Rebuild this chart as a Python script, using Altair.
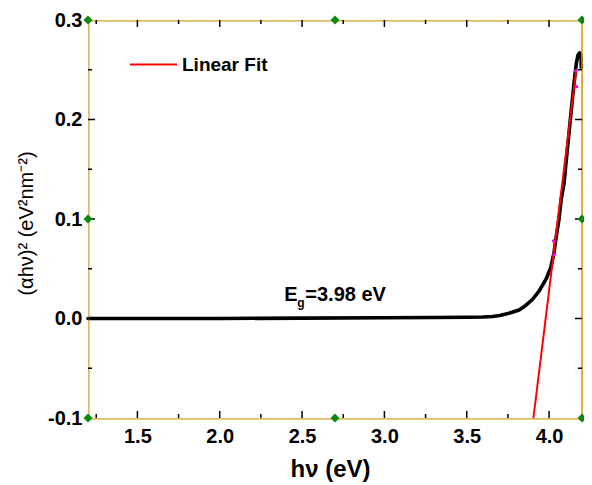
import altair as alt
import pandas as pd

# ---- data ----
curve_x = [1.20, 1.50, 2.00, 2.50, 3.00, 3.30, 3.50, 3.60, 3.656, 3.70, 3.757, 3.818,
           3.858, 3.899, 3.939, 3.980, 4.010, 4.030, 4.044, 4.060, 4.074, 4.091,
           4.111, 4.131, 4.152, 4.166, 4.176, 4.186, 4.194, 4.196]
curve_y = [0.0, 0.0, 0.0, 0.0004, 0.0007, 0.0010, 0.0012, 0.0015, 0.0020, 0.0030, 0.0052, 0.0086,
           0.0131, 0.0191, 0.0275, 0.0390, 0.0510, 0.0660, 0.0830, 0.0995, 0.1200, 0.1360,
           0.1700, 0.2030, 0.2370, 0.2570, 0.2650, 0.2670, 0.2630, 0.2520]

fit_x = [3.905, 4.165]
fit_y = [-0.10, 0.25]

fit_marker_x = [4.026, 4.030, 4.162, 4.168]
fit_marker_y = [0.078, 0.064, 0.249, 0.233]

frame_marker_x = [1.2, 2.7, 4.2, 1.2, 4.2, 1.2, 2.7, 4.2]
frame_marker_y = [0.3, 0.3, 0.3, 0.1, 0.1, -0.1, -0.1, -0.1]

x_labels = [1.5, 2.0, 2.5, 3.0, 3.5, 4.0]
x_major = [1.5, 2.0, 2.5, 3.0, 3.5, 4.0]
x_minor = [1.25, 1.75, 2.25, 2.75, 3.25, 3.75]
y_labels = [-0.1, 0.0, 0.1, 0.2, 0.3]
y_major = [0.0, 0.1, 0.2]
y_minor = [-0.05, 0.05, 0.15, 0.25]

x_domain = [1.2, 4.2]
y_domain = [-0.1, 0.3]

legend_label = "Linear Fit"
gap_anchor_x = [2.392]
gap_anchor_y = [0.0171]
gap_text = ["E", "g", "=3.98 eV"]

x_title = "hν (eV)"
y_title = "(αhν)² (eV²nm⁻²)"

# ---- layout / style ----
W, H = 494, 398
FONT = "Liberation Sans"
ORANGE = "#D99A00"

xs = alt.Scale(domain=x_domain, nice=False, zero=False)
ys = alt.Scale(domain=y_domain, nice=False, zero=False)

curve_df = pd.DataFrame({"x": curve_x, "y": curve_y, "o": list(range(len(curve_x)))})
fit_df = pd.DataFrame({"x": fit_x, "y": fit_y, "series": [legend_label] * len(fit_x)})
fm_df = pd.DataFrame({"x": fit_marker_x, "y": fit_marker_y})
frm_df = pd.DataFrame({"x": frame_marker_x, "y": frame_marker_y})

curve = alt.Chart(curve_df).mark_line(color="black", strokeWidth=3.6, strokeCap="round",
                                      strokeJoin="round").encode(
    x=alt.X("x:Q", scale=xs, axis=alt.Axis(
        values=x_labels, format=".1f", ticks=False, domain=False, grid=False,
        labelFont=FONT, labelFontSize=20, labelFontWeight="bold", labelColor="black",
        labelPadding=8, title=x_title, titleFont=FONT, titleFontSize=24,
        titleFontWeight="bold", titleColor="black", titleBaseline="alphabetic",
        titleX=242, titleY=58, titleAlign="center")),
    y=alt.Y("y:Q", scale=ys, axis=alt.Axis(
        values=y_labels, ticks=False, domain=False, grid=False,
        labelExpr="datum.value < -0.00001 ? '-' + format(-datum.value, '.1f') : format(abs(datum.value), '.1f')",
        labelFont=FONT, labelFontSize=20, labelFontWeight="bold", labelColor="black",
        labelPadding=6, title=y_title, titleFont=FONT, titleFontSize=20,
        titleFontWeight="normal", titleColor="black", titleX=-52, titleY=203,
        titleAngle=270, titleBaseline="bottom", titleAlign="center")),
    order="o:Q",
)

fit = alt.Chart(fit_df).mark_line(strokeWidth=2).encode(
    x=alt.X("x:Q", scale=xs, axis=None),
    y=alt.Y("y:Q", scale=ys, axis=None),
    color=alt.Color("series:N", scale=alt.Scale(domain=[legend_label], range=["#FF0000"]),
                    legend=alt.Legend(title=None, orient="none", legendX=41, legendY=20,
                                      symbolType="stroke", symbolSize=2209,
                                      symbolStrokeWidth=2, labelFont=FONT,
                                      labelFontSize=19, labelFontWeight="bold",
                                      labelColor="black", labelOffset=4, padding=0)),
)

fit_pts = alt.Chart(fm_df).mark_point(filled=True, size=10, color="#FF00FF", opacity=1).encode(
    x=alt.X("x:Q", scale=xs, axis=None), y=alt.Y("y:Q", scale=ys, axis=None))

frame_pts = alt.Chart(frm_df).mark_point(shape="diamond", filled=True, size=81,
                                         color="#0A8A0A", opacity=1).encode(
    x=alt.X("x:Q", scale=xs, axis=None), y=alt.Y("y:Q", scale=ys, axis=None))

def xticks(vals, length):
    d = pd.DataFrame({"x": vals})
    bot = alt.Chart(d).mark_rule(color="black", strokeWidth=1.5).encode(
        x=alt.X("x:Q", scale=xs, axis=None), y=alt.value(H), y2=alt.value(H - length))
    top = alt.Chart(d).mark_rule(color="black", strokeWidth=1.5).encode(
        x=alt.X("x:Q", scale=xs, axis=None), y=alt.value(0), y2=alt.value(length))
    return [bot, top]

def yticks(vals, length):
    d = pd.DataFrame({"y": vals})
    left = alt.Chart(d).mark_rule(color="black", strokeWidth=1.5).encode(
        y=alt.Y("y:Q", scale=ys, axis=None), x=alt.value(0), x2=alt.value(length))
    right = alt.Chart(d).mark_rule(color="black", strokeWidth=1.5).encode(
        y=alt.Y("y:Q", scale=ys, axis=None), x=alt.value(W), x2=alt.value(W - length))
    return [left, right]

one = alt.Data(values=[{}])
frame = [
    alt.Chart(one).mark_rule(color=ORANGE, strokeWidth=1).encode(
        x=alt.value(0), x2=alt.value(W), y=alt.value(1)),
    alt.Chart(one).mark_rule(color=ORANGE, strokeWidth=1).encode(
        x=alt.value(0), x2=alt.value(W), y=alt.value(H + 1)),
    alt.Chart(one).mark_rule(color=ORANGE, strokeWidth=1).encode(
        x=alt.value(1), y=alt.value(0), y2=alt.value(H)),
    alt.Chart(one).mark_rule(color=ORANGE, strokeWidth=1.5).encode(
        x=alt.value(W), y=alt.value(0), y2=alt.value(H)),
]

ann_df = pd.DataFrame({"x": gap_anchor_x, "y": gap_anchor_y})
ann_base = alt.Chart(ann_df).encode(x=alt.X("x:Q", scale=xs, axis=None),
                                    y=alt.Y("y:Q", scale=ys, axis=None))
ann = [
    ann_base.mark_text(text=gap_text[0], align="left", baseline="alphabetic", font=FONT,
                       fontSize=20, fontWeight="bold", color="black"),
    ann_base.mark_text(text=gap_text[1], align="left", baseline="alphabetic", font=FONT,
                       fontSize=12, fontWeight="bold", color="black", dx=13, dy=6),
    ann_base.mark_text(text=gap_text[2], align="left", baseline="alphabetic", font=FONT,
                       fontSize=20, fontWeight="bold", color="black", dx=21),
]

layers = ([curve] + frame + xticks(x_major, 7) + xticks(x_minor, 4) + yticks(y_major, 7)
          + yticks(y_minor, 4) + [fit, fit_pts, frame_pts] + ann)

chart = alt.layer(*layers).resolve_axis(x="independent", y="independent").properties(
    width=W, height=H,
    autosize=alt.AutoSizeParams(type="none"),
    padding={"left": 80, "top": 12, "right": 2, "bottom": 67},
).configure_view(stroke="black", strokeWidth=1.2).configure(background="white")

chart.save("out.html", embed_options={"renderer": "svg", "actions": False})
